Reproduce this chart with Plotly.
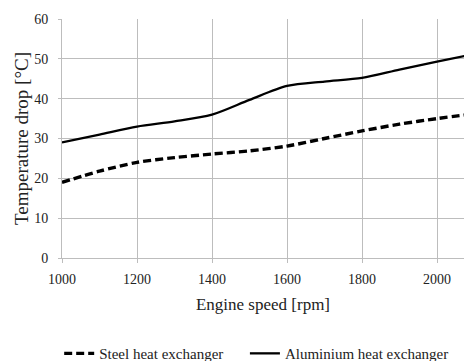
import plotly.graph_objects as go

rpm = [1000, 1100, 1200, 1300, 1400, 1500, 1600, 1700, 1800, 1900, 2000, 2100]
steel = [19.0, 21.8, 24.0, 25.2, 26.1, 26.9, 28.1, 30.0, 31.9, 33.6, 35.0, 36.2]
aluminium = [29.0, 31.0, 33.0, 34.3, 36.0, 39.7, 43.2, 44.3, 45.2, 47.3, 49.3, 51.2]

series_names = ["Steel heat exchanger", "Aluminium heat exchanger"]
x_ticks = [1000, 1200, 1400, 1600, 1800, 2000]
y_ticks = [0, 10, 20, 30, 40, 50, 60]

FF = "Times New Roman, Liberation Serif, serif"
grid_col = "#bdbdbd"
txt = "#222222"

fig = go.Figure()
fig.add_trace(go.Scatter(
    x=rpm, y=steel, mode="lines", name=series_names[0], legend="legend",
    line=dict(color="black", width=3.4, dash="8px,4px", shape="spline", smoothing=0.8),
))
fig.add_trace(go.Scatter(
    x=rpm, y=aluminium, mode="lines", name=series_names[1], legend="legend2",
    line=dict(color="black", width=2.3, shape="spline", smoothing=0.8),
))

legend_common = dict(
    orientation="h", xanchor="left", y=-0.40, yanchor="middle",
    font=dict(family=FF, size=15, color=txt),
    itemwidth=30, tracegroupgap=0, bgcolor="rgba(0,0,0,0)",
)

fig.update_layout(
    width=464, height=361,
    margin=dict(l=62, r=0, t=19, b=103, autoexpand=False),
    paper_bgcolor="white", plot_bgcolor="white",
    font=dict(family=FF, size=14, color=txt),
    showlegend=True,
    legend=dict(x=-0.007, **legend_common),
    legend2=dict(x=0.455, **legend_common),
    xaxis=dict(
        range=[1000, 2072], tickvals=x_ticks, automargin=False,
        showgrid=True, gridcolor=grid_col, gridwidth=1,
        showline=True, linecolor=grid_col, linewidth=1,
        ticks="outside", ticklen=4, tickcolor=grid_col,
        ticklabelstandoff=4,
        tickfont=dict(family=FF, size=14, color=txt),
        title=dict(text="Engine speed [rpm]", font=dict(family=FF, size=17, color=txt), standoff=12),
        zeroline=False,
    ),
    yaxis=dict(
        range=[0, 60], tickvals=y_ticks, automargin=False,
        showgrid=True, gridcolor=grid_col, gridwidth=1,
        showline=True, linecolor=grid_col, linewidth=1,
        ticks="outside", ticklen=3, tickcolor=grid_col,
        ticklabelstandoff=7,
        tickfont=dict(family=FF, size=14, color=txt),
        title=dict(text="Temperature drop [°C]", font=dict(family=FF, size=19, color=txt), standoff=0),
        zeroline=False,
    ),
)

fig.write_html(
    "out.html",
    config={"displayModeBar": False},
    post_script="document.body.style.margin='0';document.body.style.overflow='hidden';",
)
